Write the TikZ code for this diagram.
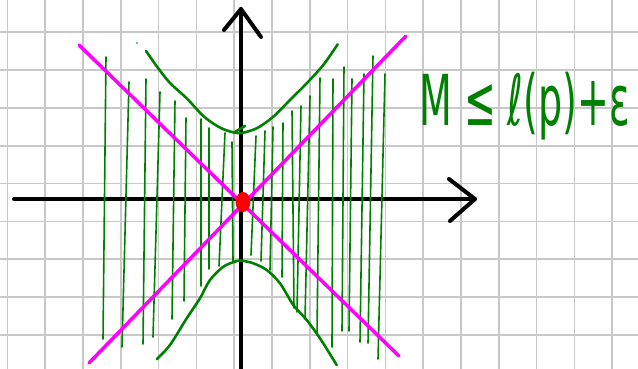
\documentclass[tikz,border=0pt]{standalone}
\usepackage{fontspec}
\newfontfamily\handfont{DejaVu Sans}
\definecolor{gridgray}{RGB}{200,200,200}
\definecolor{pen}{RGB}{0,128,0}
\definecolor{mag}{RGB}{255,0,255}
\definecolor{blob}{RGB}{255,0,0}
\begin{document}
\begin{tikzpicture}[x=1pt,y=-1pt,
  gridline/.style={gridgray,line width=1.6pt},
  axis/.style={black,line width=4pt,line cap=round,line join=round},
  asym/.style={mag,line width=3.5pt,line cap=round},
  hatch/.style={pen,line width=1.6pt,line cap=round},
  curve/.style={pen,line width=2.6pt,line cap=round,line join=round},
]
\useasboundingbox (0,0) rectangle (638,369);
\fill[white] (0,0) rectangle (638,369);
% grid
\foreach \k in {0,...,16} \draw[gridline] ({7.3+37.8*\k},0) -- ({7.3+37.8*\k},369);
\foreach \k in {0,...,8} \draw[gridline] (0,{32.3+37.8*\k}) -- (638,{32.3+37.8*\k});
% axes
\coordinate (xs) at (14,199);
\coordinate (xe) at (475,199);
\coordinate (ys) at (241,372);
\coordinate (ye) at (241,9);
\draw[axis] (xs) -- (xe);
\draw[axis] (449,179) -- (xe) -- (450,221);
\draw[axis] (ys) -- (ye);
\draw[axis] (224,30) -- (ye) -- (261,37);
% hatching
\foreach \a/\b/\c/\d in {
  106/57/103/339, 129/82/122/347, 146/79/143/344, 160/92/153/337,
  175/101/172/319, 186/118/184/301, 201/119/201/286, 209/128/209/269,
  225/133/219/266, 232/142/233/262,
  256/136/251/255, 265/131/261/261, 273/127/270/270, 283/123/282/277,
  292/111/294/308, 301/106/297/312, 310/96/305/319, 320/78/317/335,
  333/79/332/347, 344/67/342/331, 352/79/349/331, 364/74/360/342,
  373/56/368/343, 385/74/378/359}
  \draw[hatch] (\a,\b) -- (\c,\d);
\fill[pen] (137,43) circle (0.9);
% hyperbola branches
\draw[curve] plot[smooth] coordinates {(146,51) (158,68) (170,83) (186.7,98.3) (203.3,116) (218,126.5) (230,131.5) (241,133) (256.7,128.3) (273.3,116.7) (290,100) (306.7,83.3) (323.3,65) (337.7,44.3)};
\draw[curve] (235,132) -- (245,126);
\draw[curve] plot[smooth] coordinates {(156.7,359.3) (170,345) (186.7,318.3) (200,298.3) (210,280) (223.3,266.7) (236.7,261) (241,260.5) (253.3,263.3) (266.7,270) (280,283.3) (293.3,305) (306.7,320) (320,338.3) (336.7,365)};
% asymptotes
\coordinate (m1a) at (79,45);
\coordinate (m1b) at (399,356);
\coordinate (m2a) at (89,363);
\coordinate (m2b) at (406,36);
\draw[asym] (m1a) -- (m1b);
\draw[asym] (m2a) -- (m2b);
% point
\fill[blob] (243,202) ellipse [x radius=7.5, y radius=10];
% inequality
\node[text=pen, anchor=base west, inner sep=0pt, yscale=1.85] (ineq) at (419,125) {\handfont\fontsize{38}{42}\selectfont M ≤ ℓ(p)+ε};
\end{tikzpicture}
\end{document}
